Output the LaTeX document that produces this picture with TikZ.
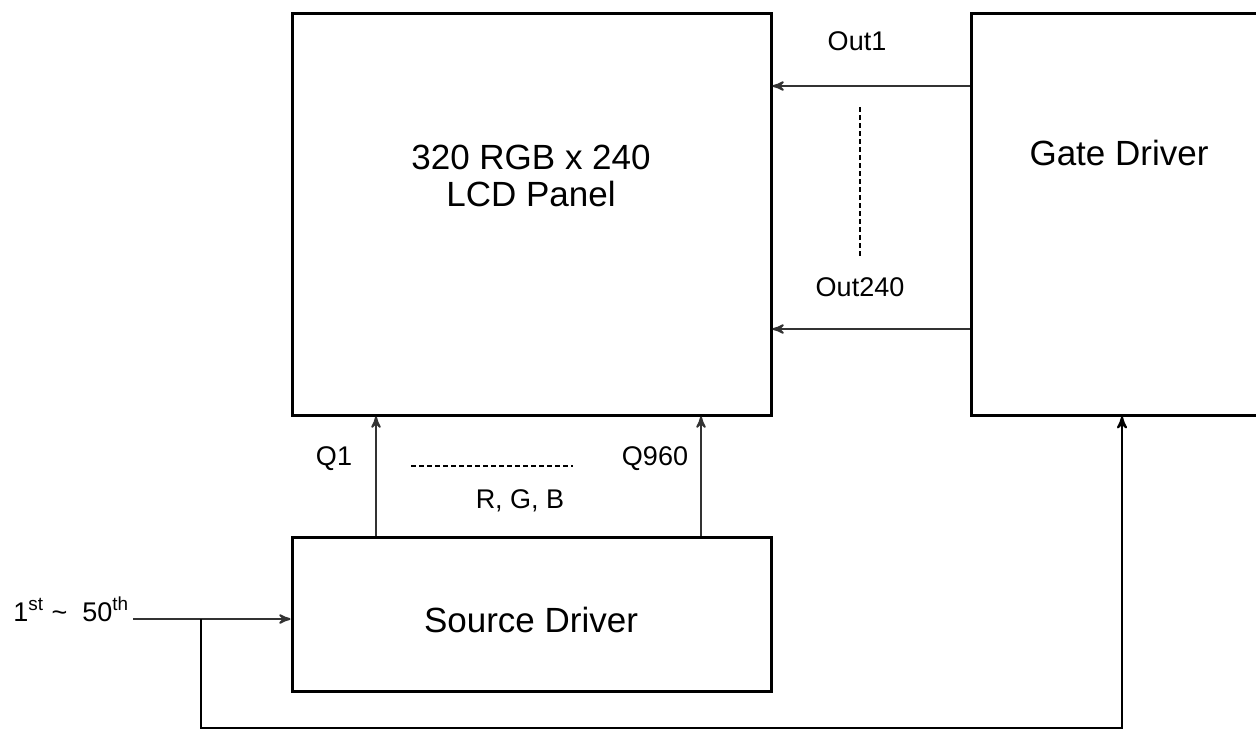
\documentclass[tikz,border=0pt]{standalone}
\usepackage{fontspec}
\setmainfont{Liberation Sans}
\usetikzlibrary{arrows}

\begin{document}
\begin{tikzpicture}[x=0.5pt,y=-0.5pt,>=stealth',
  block/.style={draw,line width=1.5pt,inner sep=0pt},
  big text/.style={font=\fontsize{17.5}{18.5}\selectfont,align=center,inner sep=0pt},
  small text/.style={font=\fontsize{13.5}{16}\selectfont,inner sep=0pt},
  signal/.style={->,draw=black!80,line width=1pt},
  dots/.style={line width=1.4pt,dash pattern=on 2.5pt off 1.5pt}]

  \useasboundingbox (0,0) rectangle (1256,730);
  \clip (0,0) rectangle (1256,730);

  % blocks
  \node[block,minimum width=239.5pt,minimum height=201pt] (panel) at (531.5,214) {};
  \node[block,minimum width=148.25pt,minimum height=201pt] (gate) at (1119.75,214) {};
  \node[block,minimum width=239.5pt,minimum height=76.75pt] (source) at (531.5,614.25) {};

  \node[big text] (paneltext) at (531,176) {320 RGB x 240\\LCD Panel};
  \node[big text] (gatetext) at (1119,152.5) {Gate Driver};
  \node[big text] (sourcetext) at (531,620) {Source Driver};

  % labels
  \node[small text] (out1) at (857,41) {Out1};
  \node[small text] (out240) at (860,287) {Out240};
  \node[small text] (q1) at (334,459) {Q1};
  \node[small text] (q960) at (655,459) {Q960};
  \node[small text] (rgb) at (520,501) {R, G, B};
  \node[small text,anchor=base west] (input) at (13,621)
    {1\textsuperscript{st}\ \textasciitilde\ \ 50\textsuperscript{th}};

  % helper coordinates
  \coordinate (o1) at (0,86);
  \coordinate (o240) at (0,329);
  \coordinate (c1) at (376,0);
  \coordinate (c960) at (701,0);
  \coordinate (inp) at (133,619);
  \coordinate (tap) at (201,619);
  \coordinate (fb) at (1122,728);

  % connectors
  \draw[signal] (gate.west |- o1) -- (panel.east |- o1);
  \draw[signal] (gate.west |- o240) -- (panel.east |- o240);
  \draw[signal] (source.north -| c1) -- (panel.south -| c1);
  \draw[signal] (source.north -| c960) -- (panel.south -| c960);
  \draw[signal] (inp) -- (source.west |- inp);
  \draw[signal,draw=black,line width=1.1pt] (tap) |- (fb) -- (gate.south -| fb);

  \draw[dots] (860,107) -- (860,257);
  \draw[dots] (411,466) -- (573,466);

\end{tikzpicture}
\end{document}
